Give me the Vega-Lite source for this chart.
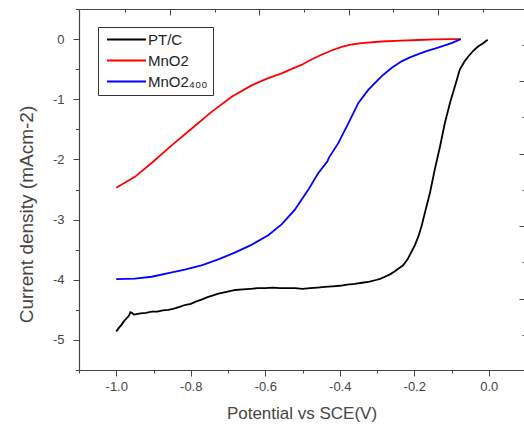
{
  "$schema": "https://vega.github.io/schema/vega-lite/v6.json",
  "width": 445,
  "height": 361,
  "autosize": "none",
  "padding": {"left": 79, "top": 9, "right": 0, "bottom": 58},
  "background": "white",
  "config": {
    "view": {"stroke": null},
    "locale": {"number": {"decimal": ".", "thousands": ",", "grouping": [3], "currency": ["$", ""], "minus": "-"}},
    "axis": {"grid": false, "domainColor": "#444", "tickColor": "#444", "labelColor": "#444", "titleColor": "#444", "labelFont": "Liberation Sans", "titleFont": "Liberation Sans", "titleFontWeight": "normal"},
    "legend": {"labelFont": "Liberation Sans"}
  },
  "data": {"values": [
    {"series": "PT/C", "potential": -1.000, "current": -4.86},
    {"series": "PT/C", "potential": -0.993, "current": -4.80},
    {"series": "PT/C", "potential": -0.986, "current": -4.75},
    {"series": "PT/C", "potential": -0.978, "current": -4.68},
    {"series": "PT/C", "potential": -0.972, "current": -4.64},
    {"series": "PT/C", "potential": -0.966, "current": -4.60},
    {"series": "PT/C", "potential": -0.962, "current": -4.54},
    {"series": "PT/C", "potential": -0.958, "current": -4.55},
    {"series": "PT/C", "potential": -0.953, "current": -4.58},
    {"series": "PT/C", "potential": -0.945, "current": -4.57},
    {"series": "PT/C", "potential": -0.935, "current": -4.56},
    {"series": "PT/C", "potential": -0.920, "current": -4.55},
    {"series": "PT/C", "potential": -0.905, "current": -4.53},
    {"series": "PT/C", "potential": -0.890, "current": -4.53},
    {"series": "PT/C", "potential": -0.875, "current": -4.51},
    {"series": "PT/C", "potential": -0.860, "current": -4.50},
    {"series": "PT/C", "potential": -0.845, "current": -4.48},
    {"series": "PT/C", "potential": -0.830, "current": -4.45},
    {"series": "PT/C", "potential": -0.816, "current": -4.42},
    {"series": "PT/C", "potential": -0.800, "current": -4.40},
    {"series": "PT/C", "potential": -0.785, "current": -4.36},
    {"series": "PT/C", "potential": -0.771, "current": -4.33},
    {"series": "PT/C", "potential": -0.755, "current": -4.29},
    {"series": "PT/C", "potential": -0.740, "current": -4.26},
    {"series": "PT/C", "potential": -0.726, "current": -4.23},
    {"series": "PT/C", "potential": -0.710, "current": -4.21},
    {"series": "PT/C", "potential": -0.695, "current": -4.19},
    {"series": "PT/C", "potential": -0.680, "current": -4.17},
    {"series": "PT/C", "potential": -0.660, "current": -4.16},
    {"series": "PT/C", "potential": -0.640, "current": -4.15},
    {"series": "PT/C", "potential": -0.620, "current": -4.14},
    {"series": "PT/C", "potential": -0.600, "current": -4.14},
    {"series": "PT/C", "potential": -0.580, "current": -4.13},
    {"series": "PT/C", "potential": -0.560, "current": -4.14},
    {"series": "PT/C", "potential": -0.540, "current": -4.14},
    {"series": "PT/C", "potential": -0.520, "current": -4.14},
    {"series": "PT/C", "potential": -0.500, "current": -4.15},
    {"series": "PT/C", "potential": -0.480, "current": -4.14},
    {"series": "PT/C", "potential": -0.460, "current": -4.13},
    {"series": "PT/C", "potential": -0.440, "current": -4.12},
    {"series": "PT/C", "potential": -0.420, "current": -4.11},
    {"series": "PT/C", "potential": -0.400, "current": -4.10},
    {"series": "PT/C", "potential": -0.380, "current": -4.08},
    {"series": "PT/C", "potential": -0.360, "current": -4.07},
    {"series": "PT/C", "potential": -0.340, "current": -4.05},
    {"series": "PT/C", "potential": -0.320, "current": -4.03},
    {"series": "PT/C", "potential": -0.300, "current": -4.00},
    {"series": "PT/C", "potential": -0.290, "current": -3.98},
    {"series": "PT/C", "potential": -0.279, "current": -3.95},
    {"series": "PT/C", "potential": -0.265, "current": -3.91},
    {"series": "PT/C", "potential": -0.252, "current": -3.86},
    {"series": "PT/C", "potential": -0.241, "current": -3.81},
    {"series": "PT/C", "potential": -0.230, "current": -3.76},
    {"series": "PT/C", "potential": -0.218, "current": -3.66},
    {"series": "PT/C", "potential": -0.207, "current": -3.53},
    {"series": "PT/C", "potential": -0.198, "current": -3.42},
    {"series": "PT/C", "potential": -0.189, "current": -3.28},
    {"series": "PT/C", "potential": -0.180, "current": -3.10},
    {"series": "PT/C", "potential": -0.172, "current": -2.90},
    {"series": "PT/C", "potential": -0.158, "current": -2.56},
    {"series": "PT/C", "potential": -0.145, "current": -2.17},
    {"series": "PT/C", "potential": -0.131, "current": -1.79},
    {"series": "PT/C", "potential": -0.118, "current": -1.40},
    {"series": "PT/C", "potential": -0.104, "current": -1.06},
    {"series": "PT/C", "potential": -0.091, "current": -0.79},
    {"series": "PT/C", "potential": -0.078, "current": -0.51},
    {"series": "PT/C", "potential": -0.066, "current": -0.38},
    {"series": "PT/C", "potential": -0.055, "current": -0.29},
    {"series": "PT/C", "potential": -0.041, "current": -0.19},
    {"series": "PT/C", "potential": -0.028, "current": -0.12},
    {"series": "PT/C", "potential": -0.015, "current": -0.07},
    {"series": "PT/C", "potential": -0.003, "current": -0.01},

    {"series": "MnO2", "potential": -1.000, "current": -2.47},
    {"series": "MnO2", "potential": -0.950, "current": -2.29},
    {"series": "MnO2", "potential": -0.905, "current": -2.06},
    {"series": "MnO2", "potential": -0.852, "current": -1.77},
    {"series": "MnO2", "potential": -0.798, "current": -1.49},
    {"series": "MnO2", "potential": -0.744, "current": -1.21},
    {"series": "MnO2", "potential": -0.690, "current": -0.96},
    {"series": "MnO2", "potential": -0.637, "current": -0.77},
    {"series": "MnO2", "potential": -0.592, "current": -0.65},
    {"series": "MnO2", "potential": -0.556, "current": -0.57},
    {"series": "MnO2", "potential": -0.530, "current": -0.50},
    {"series": "MnO2", "potential": -0.503, "current": -0.43},
    {"series": "MnO2", "potential": -0.476, "current": -0.34},
    {"series": "MnO2", "potential": -0.449, "current": -0.26},
    {"series": "MnO2", "potential": -0.422, "current": -0.19},
    {"series": "MnO2", "potential": -0.395, "current": -0.13},
    {"series": "MnO2", "potential": -0.368, "current": -0.09},
    {"series": "MnO2", "potential": -0.342, "current": -0.067},
    {"series": "MnO2", "potential": -0.288, "current": -0.04},
    {"series": "MnO2", "potential": -0.234, "current": -0.025},
    {"series": "MnO2", "potential": -0.190, "current": -0.015},
    {"series": "MnO2", "potential": -0.145, "current": -0.005},
    {"series": "MnO2", "potential": -0.100, "current": 0.0},
    {"series": "MnO2", "potential": -0.075, "current": 0.0},

    {"series": "MnO2₄₀₀", "potential": -1.000, "current": -3.99},
    {"series": "MnO2₄₀₀", "potential": -0.950, "current": -3.98},
    {"series": "MnO2₄₀₀", "potential": -0.905, "current": -3.95},
    {"series": "MnO2₄₀₀", "potential": -0.860, "current": -3.89},
    {"series": "MnO2₄₀₀", "potential": -0.816, "current": -3.83},
    {"series": "MnO2₄₀₀", "potential": -0.771, "current": -3.76},
    {"series": "MnO2₄₀₀", "potential": -0.726, "current": -3.66},
    {"series": "MnO2₄₀₀", "potential": -0.682, "current": -3.55},
    {"series": "MnO2₄₀₀", "potential": -0.637, "current": -3.42},
    {"series": "MnO2₄₀₀", "potential": -0.592, "current": -3.26},
    {"series": "MnO2₄₀₀", "potential": -0.556, "current": -3.08},
    {"series": "MnO2₄₀₀", "potential": -0.521, "current": -2.84},
    {"series": "MnO2₄₀₀", "potential": -0.485, "current": -2.51},
    {"series": "MnO2₄₀₀", "potential": -0.458, "current": -2.23},
    {"series": "MnO2₄₀₀", "potential": -0.433, "current": -2.03},
    {"series": "MnO2₄₀₀", "potential": -0.429, "current": -1.97},
    {"series": "MnO2₄₀₀", "potential": -0.404, "current": -1.73},
    {"series": "MnO2₄₀₀", "potential": -0.377, "current": -1.40},
    {"series": "MnO2₄₀₀", "potential": -0.350, "current": -1.06},
    {"series": "MnO2₄₀₀", "potential": -0.323, "current": -0.84},
    {"series": "MnO2₄₀₀", "potential": -0.288, "current": -0.62},
    {"series": "MnO2₄₀₀", "potential": -0.261, "current": -0.48},
    {"series": "MnO2₄₀₀", "potential": -0.234, "current": -0.37},
    {"series": "MnO2₄₀₀", "potential": -0.210, "current": -0.30},
    {"series": "MnO2₄₀₀", "potential": -0.189, "current": -0.25},
    {"series": "MnO2₄₀₀", "potential": -0.167, "current": -0.20},
    {"series": "MnO2₄₀₀", "potential": -0.145, "current": -0.16},
    {"series": "MnO2₄₀₀", "potential": -0.120, "current": -0.11},
    {"series": "MnO2₄₀₀", "potential": -0.100, "current": -0.067},
    {"series": "MnO2₄₀₀", "potential": -0.075, "current": 0.0}
  ]},
  "resolve": {"scale": {"x": "shared", "y": "shared"}, "axis": {"x": "independent", "y": "independent"}},
  "layer": [
    {
      "mark": {"type": "line", "strokeWidth": 1.8},
      "encoding": {
        "x": {
          "field": "potential", "type": "quantitative",
          "scale": {"domain": [-1.1, 0.0946], "nice": false, "zero": false},
          "axis": {
            "orient": "bottom",
            "title": "Potential vs SCE(V)",
            "titleFontSize": 17, "titlePadding": 12,
            "values": [-1.1, -1.0, -0.9, -0.8, -0.7, -0.6, -0.5, -0.4, -0.3, -0.2, -0.1, 0.0],
            "tickSize": {"condition": {"test": "abs(round(datum.value*10)) % 2 == 0", "value": 6}, "value": 3},
            "labelExpr": "abs(round(datum.value*10)) % 2 == 0 ? format(datum.value, '.1f') : ''",
            "labelFontSize": 13, "labelPadding": 4, "labelFlush": false, "labelOverlap": false,
            "domainColor": "#444", "domainWidth": 1.2
          }
        },
        "y": {
          "field": "current", "type": "quantitative",
          "scale": {"domain": [-5.5, 0.5], "nice": false, "zero": false},
          "axis": {
            "orient": "left",
            "title": "Current density (mAcm-2)",
            "titleFontSize": 19, "titlePadding": 16, "titleY": 205,
            "values": [0.5, 0, -0.5, -1, -1.5, -2, -2.5, -3, -3.5, -4, -4.5, -5, -5.5],
            "tickSize": {"condition": {"test": "datum.value == round(datum.value)", "value": 6}, "value": 3.5},
            "labelExpr": "datum.value == round(datum.value) ? format(datum.value, 'd') : ''",
            "labelFontSize": 13, "labelPadding": 9, "labelFlush": false, "labelOverlap": false,
            "domainColor": "#444", "domainWidth": 1.2
          }
        },
        "color": {
          "field": "series", "type": "nominal",
          "scale": {"domain": ["PT/C", "MnO2", "MnO2₄₀₀"], "range": ["#000000", "#ff0000", "#0000ff"]},
          "legend": {
            "title": null, "orient": "none", "legendX": 19, "legendY": 18,
            "symbolType": "M-3,0H3", "symbolSize": 169, "symbolStrokeWidth": 2,
            "symbolFillColor": "transparent",
            "labelFontSize": 15, "labelColor": "#222", "labelOffset": 14,
            "rowPadding": 5, "padding": 5, "symbolOffset": 16,
            "strokeColor": "#333", "fillColor": "white"
          }
        }
      }
    },
    {
      "mark": {"type": "line", "opacity": 0},
      "encoding": {
        "x": {
          "field": "potential", "type": "quantitative",
          "axis": {
            "orient": "top", "title": null, "labels": false, "domainColor": "#444", "domainWidth": 1.2,
            "values": [-0.9758, -0.857, -0.7362, -0.6173, -0.4965, -0.3765, -0.2576, -0.1369, -0.0161],
            "tickSize": {"condition": {"test": "indexof([-0.857, -0.6173, -0.3765, -0.1369], datum.value) >= 0", "value": -6}, "value": -3}
          }
        },
        "y": {
          "field": "current", "type": "quantitative",
          "axis": {
            "orient": "right", "title": null, "labels": false, "domain": false,
            "values": [-0.095, -0.694, -1.293, -1.904, -2.507, -3.106, -3.705, -4.316, -4.92],
            "tickSize": {"condition": {"test": "indexof([-0.694, -1.904, -3.106, -4.316], datum.value) >= 0", "value": -5}, "value": -2}
          }
        },
        "detail": {"field": "series"}
      }
    }
  ]
}
